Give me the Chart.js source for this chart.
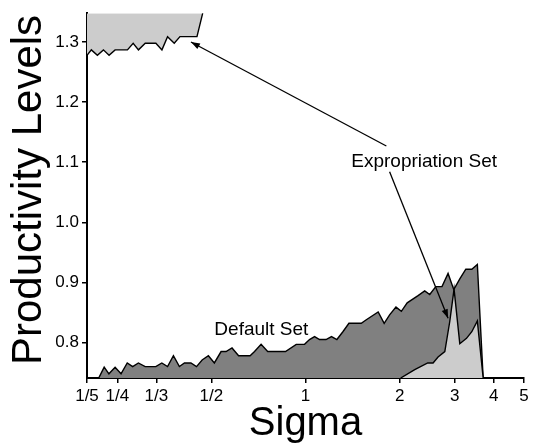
<!DOCTYPE html>
<html>
<head>
<meta charset="utf-8">
<script src="https://cdn.jsdelivr.net/npm/chart.js@4"></script>
<style>
  html, body { margin: 0; padding: 0; background: #fff; }
  #chart { display: block; }
</style>
</head>
<body>
<canvas id="chart" width="533" height="446"></canvas>
<script>
// axis ticks
const sigmaTicks = [0.2, 0.25, 1 / 3, 0.5, 1, 2, 3, 4, 5];
const sigmaTickLabels = ['1/5', '1/4', '1/3', '1/2', '1', '2', '3', '4', '5'];
const levelTicks = [0.8, 0.9, 1.0, 1.1, 1.2, 1.3];

// default set: upper edge (filled down to the axis)
const defaultSigma = [0.2, 0.218, 0.227, 0.235, 0.246, 0.257, 0.269, 0.280, 0.292, 0.307,
  0.332, 0.347, 0.362, 0.378, 0.395, 0.410, 0.430, 0.448, 0.467, 0.489,
  0.511, 0.537, 0.557, 0.582, 0.611, 0.665, 0.687, 0.721, 0.757, 0.863,
  0.934, 0.993, 1.030, 1.069, 1.109, 1.163, 1.211, 1.260, 1.317, 1.377,
  1.508, 1.565, 1.708, 1.785, 1.858, 1.947, 2.026, 2.115, 2.291, 2.406,
  2.497, 2.610, 2.733, 2.858, 2.981, 3.116, 3.257, 3.404, 3.546, 3.701];
const defaultUpper = [0.741, 0.741, 0.759, 0.748, 0.759, 0.748, 0.766, 0.760, 0.766, 0.760,
  0.760, 0.766, 0.760, 0.778, 0.760, 0.766, 0.766, 0.760, 0.771, 0.778,
  0.766, 0.785, 0.785, 0.791, 0.778, 0.778, 0.785, 0.797, 0.785, 0.785,
  0.797, 0.797, 0.805, 0.810, 0.805, 0.805, 0.810, 0.805, 0.818, 0.832,
  0.832, 0.838, 0.851, 0.832, 0.846, 0.859, 0.852, 0.866, 0.878, 0.886,
  0.880, 0.893, 0.893, 0.915, 0.888, 0.906, 0.922, 0.922, 0.930, 0.741];

// expropriation set, high sigma part: upper edge (filled down to the axis)
const exproHighSigma = [2.016, 2.236, 2.460, 2.559, 2.655, 2.790, 2.894, 2.987, 3.116, 3.274, 3.404, 3.546, 3.701];
const exproHighUpper = [0.741, 0.755, 0.766, 0.766, 0.776, 0.785, 0.835, 0.889, 0.798, 0.807, 0.818, 0.836, 0.741];

// expropriation set, low sigma part: lower edge (filled up to the top)
const exproLowSigma = [0.2, 0.2065, 0.2159, 0.2257, 0.2353, 0.2460, 0.2694, 0.2810, 0.2922, 0.3071,
  0.3322, 0.3473, 0.3620, 0.3803, 0.3967, 0.4496, 0.469];
const exproLowLower = [1.278, 1.287, 1.278, 1.287, 1.278, 1.287, 1.287, 1.298, 1.287, 1.298,
  1.298, 1.287, 1.309, 1.298, 1.309, 1.309, 1.348];

const FONT = "'Liberation Sans', Arial, Helvetica, sans-serif";
const toPoints = (xs, ys) => xs.map((x, i) => ({ x: x, y: ys[i] }));

// labels and arrows, placed in data units
const notes = [
  { text: 'Default Set', x: 0.511, y: 0.813 },
  { text: 'Expropriation Set', x: 1.401, y: 1.092 }
];
const arrows = [
  { from: [1.814, 1.127], to: [0.430, 1.300] },
  { from: [1.858, 1.084], to: [2.858, 0.8405] }
];

const annotate = {
  id: 'annotate',
  afterDraw(chart) {
    const ctx = chart.ctx;
    const xs = chart.scales.x, ys = chart.scales.y;
    const area = chart.chartArea;
    ctx.save();
    ctx.fillStyle = '#000';
    ctx.strokeStyle = '#000';

    ctx.font = '19px ' + FONT;
    ctx.textAlign = 'left';
    ctx.textBaseline = 'alphabetic';
    notes.forEach(n => ctx.fillText(n.text, xs.getPixelForValue(n.x), ys.getPixelForValue(n.y)));

    ctx.lineWidth = 1.3;
    arrows.forEach(a => {
      const x0 = xs.getPixelForValue(a.from[0]), y0 = ys.getPixelForValue(a.from[1]);
      const x1 = xs.getPixelForValue(a.to[0]), y1 = ys.getPixelForValue(a.to[1]);
      const ang = Math.atan2(y1 - y0, x1 - x0);
      ctx.beginPath();
      ctx.moveTo(x0, y0);
      ctx.lineTo(x1, y1);
      ctx.stroke();
      const len = 9, half = 3.2;
      ctx.beginPath();
      ctx.moveTo(x1, y1);
      ctx.lineTo(x1 - len * Math.cos(ang) + half * Math.sin(ang), y1 - len * Math.sin(ang) - half * Math.cos(ang));
      ctx.lineTo(x1 - len * Math.cos(ang) - half * Math.sin(ang), y1 - len * Math.sin(ang) + half * Math.cos(ang));
      ctx.closePath();
      ctx.fill();
    });

    // axis titles
    ctx.font = '40px ' + FONT;
    ctx.textAlign = 'center';
    ctx.fillText('Sigma', (area.left + area.right) / 2, 435);
    ctx.font = '42px ' + FONT;
    ctx.translate(41, 190);
    ctx.rotate(-Math.PI / 2);
    ctx.fillText('Productivity Levels', 0, 0);
    ctx.restore();
  }
};

new Chart(document.getElementById('chart'), {
  type: 'line',
  data: {
    datasets: [
      {
        data: toPoints(exproLowSigma, exproLowLower),
        borderColor: '#000', borderWidth: 1.4,
        backgroundColor: '#cccccc', fill: 'end',
        pointRadius: 0, tension: 0, order: 1
      },
      {
        data: toPoints(exproHighSigma, exproHighUpper),
        borderColor: '#000', borderWidth: 1.4,
        backgroundColor: '#cccccc', fill: 'start',
        pointRadius: 0, tension: 0, order: 1
      },
      {
        data: toPoints(defaultSigma, defaultUpper),
        borderColor: '#000', borderWidth: 1.4,
        backgroundColor: '#808080', fill: 'start',
        pointRadius: 0, tension: 0, order: 2
      }
    ]
  },
  options: {
    responsive: false,
    animation: false,
    layout: { padding: { top: 13, right: 9, left: 0, bottom: 0 } },
    plugins: { legend: { display: false }, tooltip: { enabled: false } },
    scales: {
      x: {
        type: 'logarithmic',
        min: 0.2, max: 5,
        afterBuildTicks: s => { s.ticks = sigmaTicks.map(v => ({ value: v })); },
        afterFit: s => { s.height = 68; },
        ticks: {
          color: '#000', font: { family: FONT, size: 17 }, padding: 3,
          maxRotation: 0, autoSkip: false,
          callback: (v, i) => sigmaTickLabels[i]
        },
        grid: { display: true, drawOnChartArea: false, drawTicks: true, tickLength: 5, color: '#000', lineWidth: 1.5 },
        border: { display: true, color: '#000', width: 2 }
      },
      y: {
        min: 0.741, max: 1.348,
        afterBuildTicks: s => { s.ticks = levelTicks.map(v => ({ value: v })); },
        afterFit: s => { s.width = 87; },
        ticks: {
          color: '#000', font: { family: FONT, size: 17 }, padding: 3,
          callback: v => v.toFixed(1)
        },
        grid: { display: true, drawOnChartArea: false, drawTicks: true, tickLength: 5, color: '#000', lineWidth: 1.5 },
        border: { display: true, color: '#000', width: 2 }
      }
    }
  },
  plugins: [annotate]
});
</script>
</body>
</html>
